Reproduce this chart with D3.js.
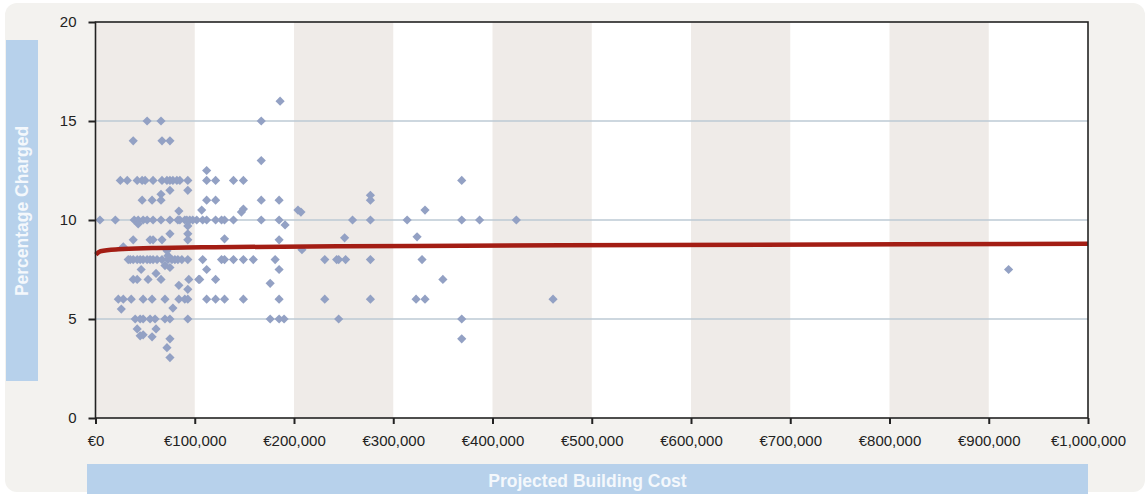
<!DOCTYPE html>
<html>
<head>
<meta charset="utf-8">
<script src="https://cdn.jsdelivr.net/npm/d3@7"></script>
<style>
  body { margin: 0; background: #ffffff; }
  svg { display: block; font-family: "Liberation Sans", Arial, sans-serif; }
</style>
</head>
<body>
<svg id="chart" width="1148" height="494"></svg>
<script>
// building cost in thousands of euro, percentage charged
var costK = [
  186,
  52, 66, 167,
  38, 67, 75,
  167, 112,
  25, 32, 42, 47, 50, 58, 67, 72, 75, 78, 82, 85, 93, 112, 121, 139, 149, 369,
  75, 93, 66, 277,
  47, 57, 66, 112, 121, 167, 185, 277,
  84, 107, 147, 149, 204, 207, 332,
  4.5, 20, 39, 43, 48, 52, 58, 66, 75, 83, 85, 90, 92, 95, 98, 102, 108, 112, 121, 127, 130, 139, 167, 185, 259, 277, 314, 369, 387, 424,
  191, 43, 93, 93, 93, 75,
  38, 55, 58, 67, 130, 185, 251, 324,
  28, 72, 208, 73,
  33, 35, 38, 42, 45, 48, 52, 55, 58, 62, 67, 73, 77, 80, 83, 87, 93, 108, 127, 130, 139, 149, 159, 181, 231, 243, 245, 252, 277, 329,
  70, 75, 46, 112, 185, 920, 61,
  38, 42, 53, 66, 94, 104, 105, 121, 350,
  84, 176, 93,
  23, 28, 36, 48, 57, 70, 84, 90, 93, 112, 121, 130, 149, 185, 231, 277, 323, 332, 461,
  26, 78,
  40, 45, 48, 55, 60, 70, 75, 93, 176, 185, 190, 245, 369,
  42, 61, 45, 48, 57, 75, 369, 72, 75
]
var percentCharged = [
  16,
  15, 15, 15,
  14, 14, 14,
  13, 12.5,
  12, 12, 12, 12, 12, 12, 12, 12, 12, 12, 12, 12, 12, 12, 12, 12, 12, 12,
  11.5, 11.5, 11.3, 11.25,
  11, 11, 11, 11, 11, 11, 11, 11,
  10.45, 10.5, 10.4, 10.55, 10.5, 10.4, 10.5,
  10, 10, 10, 10, 10, 10, 10, 10, 10, 10, 10, 10, 10, 10, 10, 10, 10, 10, 10, 10, 10, 10, 10, 10, 10, 10, 10, 10, 10, 10,
  9.75, 9.8, 9.7, 9.3, 9.0, 9.3,
  9, 9, 9, 9, 9.05, 9, 9.1, 9.15,
  8.65, 8.45, 8.5, 8.2,
  8, 8, 8, 8, 8, 8, 8, 8, 8, 8, 8, 8, 8, 8, 8, 8, 8, 8, 8, 8, 8, 8, 8, 8, 8, 8, 8, 8, 8, 8,
  7.7, 7.6, 7.5, 7.5, 7.5, 7.5, 7.3,
  7, 7, 7, 7, 7, 7, 7, 7, 7,
  6.7, 6.8, 6.5,
  6, 6, 6, 6, 6, 6, 6, 6, 6, 6, 6, 6, 6, 6, 6, 6, 6, 6, 6,
  5.5, 5.55,
  5, 5, 5, 5, 5, 5, 5, 5, 5, 5, 5, 5, 5,
  4.5, 4.5, 4.15, 4.2, 4.1, 4, 4, 3.55, 3.05
]
// logarithmic trend line
var trendCostK = [0.3, 5, 23, 57, 120, 250, 470, 1000]
var trendPercent = [8.25, 8.42, 8.52, 8.58, 8.63, 8.67, 8.72, 8.8]

var yTicks = [0, 5, 10, 15, 20]
var xTicks = [0, 100000, 200000, 300000, 400000, 500000, 600000, 700000, 800000, 900000, 1000000]
var gridValues = [5, 10, 15]
var bandStarts = [0, 200000, 400000, 600000, 800000]

var svg = d3.select("#chart")
var plotLeft = 95.5, plotRight = 1088, plotTop = 22, plotBottom = 418

var x = d3.scaleLinear().domain([0, 1000000]).range([plotLeft, plotRight])
var y = d3.scaleLinear().domain([0, 20]).range([plotBottom, plotTop])

// outer panel
svg.append("rect")
  .attr("x", 5).attr("y", 3).attr("width", 1140).attr("height", 489)
  .attr("rx", 12).attr("ry", 12)
  .style("fill", "#f3f2ef")

// plot area
svg.append("rect")
  .attr("x", plotLeft).attr("y", plotTop)
  .attr("width", plotRight - plotLeft).attr("height", plotBottom - plotTop)
  .style("fill", "#ffffff")

svg.append("g").selectAll("rect").data(bandStarts).join("rect")
  .attr("x", function(d) { return x(d) })
  .attr("y", plotTop)
  .attr("width", function(d) { return x(d + 100000) - x(d) })
  .attr("height", plotBottom - plotTop)
  .style("fill", "#efebe8")

svg.append("g").selectAll("line").data(gridValues).join("line")
  .attr("x1", plotLeft).attr("x2", plotRight)
  .attr("y1", function(d) { return y(d) })
  .attr("y2", function(d) { return y(d) })
  .style("stroke", "#bccad4")
  .style("stroke-width", 1.3)

// scatter points
var points = costK.map(function(c, i) { return {cost: c * 1000, pct: percentCharged[i]} })
var diamond = "M0,-4.6L4.6,0L0,4.6L-4.6,0Z"
svg.append("g").selectAll("path").data(points).join("path")
  .attr("d", diamond)
  .attr("transform", function(d) { return "translate(" + x(d.cost) + "," + y(d.pct) + ")" })
  .style("fill", "#93a1c4")

// trend line
var trend = trendCostK.map(function(c, i) { return [c * 1000, trendPercent[i]] })
var line = d3.line()
  .x(function(d) { return x(d[0]) })
  .y(function(d) { return y(d[1]) })
  .curve(d3.curveMonotoneX)
svg.append("path")
  .datum(trend)
  .attr("d", line)
  .style("fill", "none")
  .style("stroke", "#a31d14")
  .style("stroke-width", 4.5)

// frame
svg.append("rect")
  .attr("x", plotLeft).attr("y", plotTop)
  .attr("width", plotRight - plotLeft).attr("height", plotBottom - plotTop)
  .style("fill", "none")
  .style("stroke", "#222222")
  .style("stroke-width", 1.6)

var yAxis = d3.axisLeft(y).tickValues(yTicks).tickSize(7).tickPadding(12)
svg.append("g").attr("transform", "translate(" + plotLeft + ",0)").call(yAxis)
var xFormat = d3.format(",")
var xAxis = d3.axisBottom(x).tickValues(xTicks).tickSize(6).tickPadding(11)
  .tickFormat(function(d) { return "€" + xFormat(d) })
svg.append("g").attr("transform", "translate(0," + plotBottom + ")").call(xAxis)

svg.selectAll(".domain").remove()
svg.selectAll(".tick line").style("stroke", "#222222").style("stroke-width", 2)
svg.selectAll(".tick text")
  .style("font-size", "15px")
  .style("fill", "#222222")
  .style("font-family", "\"Liberation Sans\", Arial, sans-serif")

// axis title boxes
svg.append("rect")
  .attr("x", 6).attr("y", 40).attr("width", 32).attr("height", 341)
  .style("fill", "#b7d1eb")
svg.append("text")
  .attr("transform", "translate(28,211) rotate(-90)")
  .attr("text-anchor", "middle")
  .style("font-size", "17.5px").style("font-weight", "bold").style("fill", "#f4f8fc")
  .text("Percentage Charged")

svg.append("rect")
  .attr("x", 87).attr("y", 464).attr("width", plotRight - 87).attr("height", 30)
  .style("fill", "#b7d1eb")
svg.append("text")
  .attr("x", (87 + plotRight) / 2).attr("y", 487)
  .attr("text-anchor", "middle")
  .style("font-size", "17.5px").style("font-weight", "bold").style("fill", "#f4f8fc")
  .text("Projected Building Cost")
</script>
</body>
</html>
